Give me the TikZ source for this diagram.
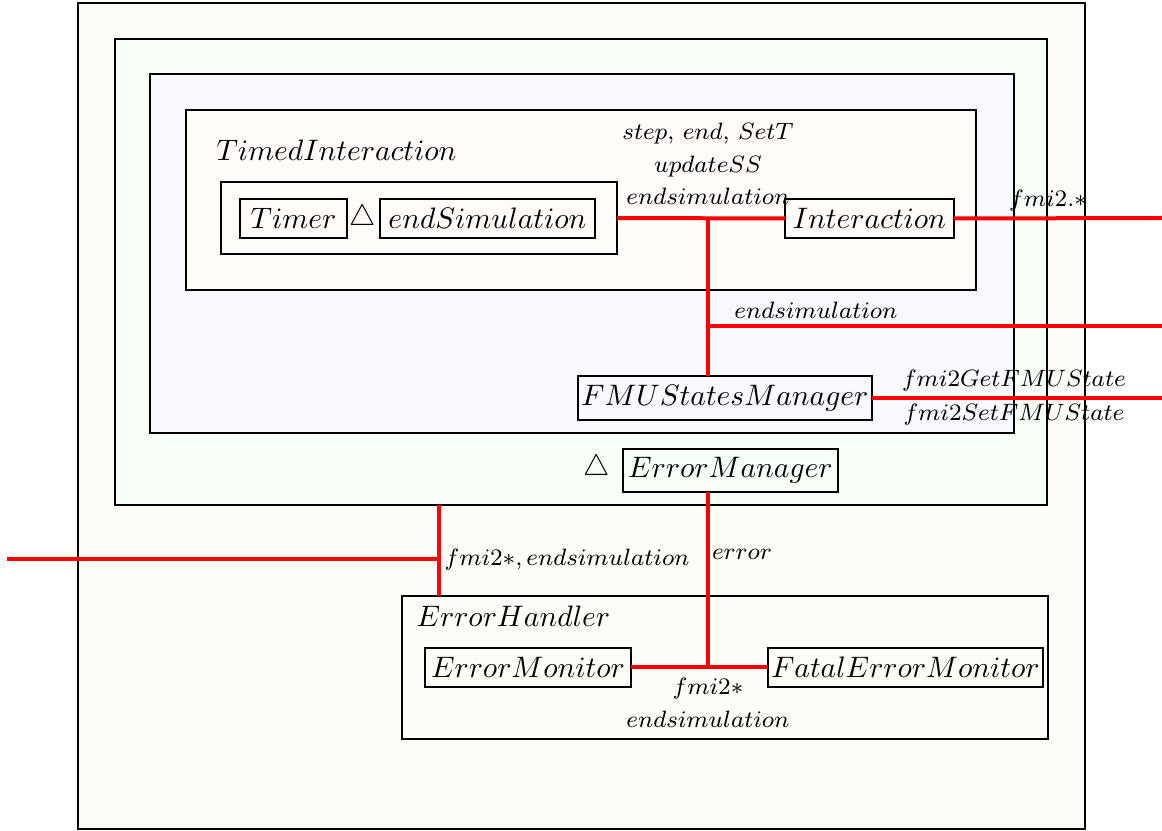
\documentclass[tikz,border=0pt]{standalone}
\definecolor{outerfill}{RGB}{253,253,247}
\definecolor{greenfill}{RGB}{248,254,248}
\definecolor{bluefill}{RGB}{248,248,255}
\definecolor{pinkfill}{RGB}{255,252,250}
\definecolor{wire}{RGB}{255,0,0}
\begin{document}
\begin{tikzpicture}[x=0.3378pt,y=-0.3378pt,
  sz/.style 2 args={minimum width=#1*0.3378pt, minimum height=#2*0.3378pt},
  box/.style={draw=black, line width=0.4pt, inner sep=0pt, outer sep=0pt},
  cont/.style={draw=black, line width=0.4pt, inner sep=0pt, outer sep=0pt},
  title/.style={inner sep=0pt, anchor=west},
  lbl/.style={inner sep=0pt, align=center, font=\fontsize{8}{11}\selectfont},
  conn/.style={draw=wire, line width=1.35pt}]
\useasboundingbox (0,0) rectangle (1162,831);
% containers
\node[cont, fill=outerfill, sz={1007}{826}] (outer) at (581.5,416) {};
\node[cont, fill=greenfill, sz={932}{466}] (green) at (581,272) {};
\node[cont, fill=bluefill, sz={864}{359}] (blue) at (582,253.5) {};
\node[cont, fill=pinkfill, sz={790}{180}] (timed) at (581,200) {};
\node[title] (timedT) at (216,150) {$TimedInteraction$};
\node[cont, sz={396}{72}] (grp) at (419,218) {};
\node[box, sz={107}{39}] (timer) at (293.5,218.5) {$Timer$};
\node[inner sep=0pt] (tri1) at (363,218) {$\triangle$};
\node[box, sz={215}{39}] (endsim) at (487.5,218.5) {$endSimulation$};
\node[box, sz={169}{39}] (inter) at (869.5,218.5) {$Interaction$};
\node[box, sz={294}{44}] (fmu) at (725,398) {$FMUStatesManager$};
\node[inner sep=0pt] (tri2) at (597,468) {$\triangle$};
\node[box, sz={215}{43}] (em) at (730.5,470.5) {$ErrorManager$};
\node[cont, sz={646}{143}] (eh) at (725,667.5) {};
\node[title] (ehT) at (416,616) {$ErrorHandler$};
\node[box, sz={206}{39}] (emon) at (528,667.5) {$ErrorMonitor$};
\node[box, sz={275}{39}] (fatal) at (905.5,667.5) {$FatalErrorMonitor$};
% coordinates
\coordinate (j1) at (708,218);
\coordinate (e1) at (1162,218);
\coordinate (e2) at (1162,326);
\coordinate (e3) at (1162,398);
\coordinate (j3) at (708,667.5);
\coordinate (j4) at (439,559);
\coordinate (w1) at (7,559);
% connectors
\draw[conn] (grp.east) -- (inter.west);
\draw[conn] (j1) -- (j1 |- fmu.north);
\draw[conn] (inter.east) -- (e1);
\draw[conn] (j1 |- e2) -- (e2);
\draw[conn] (fmu.east) -- (e3);
\draw[conn] (j3 |- em.south) -- (j3);
\draw[conn] (emon.east) -- (fatal.west);
\draw[conn] (j4 |- green.south) -- (j4 |- eh.north);
\draw[conn] (w1) -- (j4);
% labels
\node[lbl] (l1) at (708,164) {$step$, $end$, $SetT$\\$updateSS$\\$endsimulation$};
\node[lbl] (l2) at (1048,201) {$fmi2.*$};
\node[lbl] (l3) at (816,310) {$endsimulation$};
\node[lbl] (l4) at (1014,381) {$fmi2GetFMUState$};
\node[lbl] (l5) at (1014,415) {$fmi2SetFMUState$};
\node[lbl] (l6) at (742,554) {$error$};
\node[lbl, anchor=west] (l7) at (444,560) {$fmi2*, endsimulation$};
\node[lbl] (l8) at (708,703) {$fmi2*$\\$endsimulation$};
\end{tikzpicture}
\end{document}
